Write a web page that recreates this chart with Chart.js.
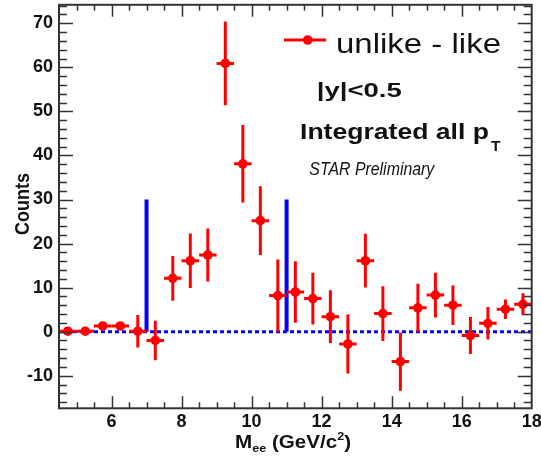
<!DOCTYPE html>
<html>
<head>
<meta charset="utf-8">
<script src="https://cdn.jsdelivr.net/npm/chart.js@4.4.1/dist/chart.umd.min.js"></script>
<style>
html,body{margin:0;padding:0;background:#fff;}
#c{display:block;}
</style>
</head>
<body>
<canvas id="c" width="541" height="461"></canvas>
<script>
// ---- data ----
const massBins = [4.75,5.25,5.75,6.25,6.75,7.25,7.75,8.25,8.75,9.25,9.75,10.25,10.75,11.25,11.75,12.25,12.75,13.25,13.75,14.25,14.75,15.25,15.75,16.25,16.75,17.25,17.75];
const counts   = [0.1,0.1,1.3,1.3,0.1,-2.0,12.1,16.1,17.4,60.9,38.1,25.2,8.2,9.0,7.5,3.4,-2.8,16.1,4.1,-6.8,5.4,8.3,6.0,-0.9,1.9,5.1,6.2];
const countErr = [0.5,0.5,0.8,0.8,3.7,4.5,5.1,6.2,6.0,9.5,8.8,7.8,8.2,7.0,5.9,6.0,6.7,6.1,6.2,6.6,5.5,5.1,4.5,4.2,3.7,2.2,2.5];
const binHalfWidth = 0.25;
const windowLow  = [{x:7,y:0},{x:7,y:30}];
const windowHigh = [{x:11,y:0},{x:11,y:30}];
const zeroLine   = [{x:4.5,y:0},{x:18,y:0}];
const xTickLabels = [6,8,10,12,14,16,18];
const yTickLabels = [-10,0,10,20,30,40,50,60,70];
const xRange = [4.5, 18];
const yRange = [-17.4, 74.2];
const seriesName = 'unlike - like';

const points = massBins.map((m,i)=>({x:m, y:counts[i]}));
const FONT = "'Liberation Sans', Arial, Helvetica, sans-serif";
const NARROW = "'Liberation Sans Narrow', 'Liberation Sans', Arial, sans-serif";

function fitText(ctx, s, x, y, font, targetW, color){
  ctx.save();
  ctx.font = font;
  const w = ctx.measureText(s).width;
  const sx = targetW ? targetW / w : 1;
  ctx.translate(x, y);
  ctx.scale(sx, 1);
  ctx.fillStyle = color || '#111';
  ctx.textAlign = 'left';
  ctx.textBaseline = 'alphabetic';
  ctx.fillText(s, 0, 0);
  ctx.restore();
}

const rootStyle = {
  id: 'rootStyle',
  beforeDatasetDraw(chart, args){
    if (args.index !== 0) return;
    const ctx = chart.ctx, xs = chart.scales.x, ys = chart.scales.y, a = chart.chartArea;
    ctx.save();
    ctx.beginPath(); ctx.rect(a.left, a.top, a.right-a.left, a.bottom-a.top); ctx.clip();
    ctx.strokeStyle = '#ff0000'; ctx.lineWidth = 3; ctx.lineCap = 'butt';
    for (let i=0;i<massBins.length;i++){
      const px = xs.getPixelForValue(massBins[i]);
      const py = ys.getPixelForValue(counts[i]);
      ctx.beginPath();
      ctx.moveTo(px, ys.getPixelForValue(counts[i]+countErr[i]));
      ctx.lineTo(px, ys.getPixelForValue(counts[i]-countErr[i]));
      ctx.moveTo(xs.getPixelForValue(massBins[i]-binHalfWidth), py);
      ctx.lineTo(xs.getPixelForValue(massBins[i]+binHalfWidth), py);
      ctx.stroke();
    }
    ctx.restore();
  },
  afterDraw(chart){
    const ctx = chart.ctx, xs = chart.scales.x, ys = chart.scales.y, a = chart.chartArea;
    ctx.save();
    // ticks inside the frame
    ctx.strokeStyle = '#333'; ctx.lineWidth = 1.5;
    ctx.beginPath();
    for (let v=-16; v<=yRange[1]; v+=2){
      const py = Math.round(ys.getPixelForValue(v))+0.5;
      const L = (v % 10 === 0) ? 14 : 8;
      ctx.moveTo(a.left, py); ctx.lineTo(a.left+L, py);
      ctx.moveTo(a.right, py); ctx.lineTo(a.right-L, py);
    }
    for (let v=5; v<xRange[1]; v+=0.5){
      const px = Math.round(xs.getPixelForValue(v))+0.5;
      const L = (v % 2 === 0) ? 12 : 6;
      ctx.moveTo(px, a.bottom); ctx.lineTo(px, a.bottom-L);
      ctx.moveTo(px, a.top); ctx.lineTo(px, a.top+L);
    }
    ctx.stroke();
    // frame
    ctx.lineWidth = 2; ctx.strokeStyle = '#333';
    ctx.strokeRect(a.left, a.top, a.right-a.left, a.bottom-a.top);

    // legend
    ctx.strokeStyle = '#ff0000'; ctx.lineWidth = 3;
    ctx.beginPath(); ctx.moveTo(284, 40); ctx.lineTo(326, 40); ctx.stroke();
    ctx.fillStyle = '#ff0000';
    ctx.beginPath(); ctx.arc(307.7, 40, 4.8, 0, Math.PI*2); ctx.fill();
    fitText(ctx, seriesName, 336, 53.3, "28px "+FONT, 165);

    // annotations
    fitText(ctx, '|y|<0.5', 316.7, 96.7, "bold 20px "+FONT, 85);
    fitText(ctx, 'Integrated all p', 300, 139, "bold 22px "+FONT, 189);
    fitText(ctx, 'T', 491, 151, "bold 15px "+FONT, 9.5);
    fitText(ctx, 'STAR Preliminary', 309.3, 175, "italic 18px "+NARROW, 125);

    // x title: M_ee (GeV/c^2)
    const parts = [
      {s:'M', f:"bold 18px "+FONT, dy:0},
      {s:'ee', f:"bold 11px "+FONT, dy:4},
      {s:' (GeV/c', f:"bold 18px "+FONT, dy:0},
      {s:'2', f:"bold 11px "+FONT, dy:-8},
      {s:')', f:"bold 18px "+FONT, dy:0}
    ];
    let tot = 0;
    parts.forEach(p=>{ ctx.font=p.f; p.w = ctx.measureText(p.s).width; tot += p.w; });
    const sx = 116 / tot;
    let cx = 293 - 58;
    ctx.fillStyle = '#111'; ctx.textBaseline = 'alphabetic'; ctx.textAlign='left';
    parts.forEach(p=>{
      ctx.save(); ctx.font = p.f; ctx.translate(cx, 448 + p.dy); ctx.scale(sx,1);
      ctx.fillText(p.s, 0, 0); ctx.restore();
      cx += p.w*sx;
    });

    // y title
    ctx.save();
    ctx.translate(29.4, 204);
    ctx.rotate(-Math.PI/2);
    ctx.font = "bold 18px "+FONT;
    const cw = ctx.measureText('Counts').width;
    ctx.scale(62/cw, 1.08);
    ctx.textAlign = 'center'; ctx.textBaseline = 'alphabetic';
    ctx.fillStyle = '#111';
    ctx.fillText('Counts', 0, 0);
    ctx.restore();

    ctx.restore();
  }
};

new Chart(document.getElementById('c'), {
  type: 'scatter',
  data: {
    datasets: [
      {label: seriesName, data: points, backgroundColor:'#ff0000', borderColor:'#ff0000',
       pointRadius: 4.8, pointHoverRadius: 4.8, pointBorderWidth: 0, showLine:false, order:0},
      {label:'window low', data: windowLow, showLine:true, borderColor:'#0000ff', borderWidth:4,
       pointRadius:0, order:1},
      {label:'window high', data: windowHigh, showLine:true, borderColor:'#0000ff', borderWidth:4,
       pointRadius:0, order:1},
      {label:'zero', data: zeroLine, showLine:true, borderColor:'#0000ff', borderWidth:3,
       borderDash:[4,3], pointRadius:0, order:2}
    ]
  },
  options: {
    responsive: false,
    animation: false,
    devicePixelRatio: 1,
    layout: {padding: {top: 4, right: 9.3, left: 0, bottom: 0}},
    plugins: {legend: {display:false}, tooltip: {enabled:false}},
    scales: {
      x: {
        type:'linear', min: xRange[0], max: xRange[1],
        afterBuildTicks: s => { s.ticks = xTickLabels.map(v=>({value:v})); },
        afterFit: s => { s.height = 461 - 408.3; s.paddingLeft = 0; s.paddingRight = 0; },
        grid: {display:false, drawTicks:false},
        border: {display:false},
        ticks: {font:{family:FONT, size:18, weight:'bold'}, color:'#111', padding:3, maxRotation:0, autoSkip:false}
      },
      y: {
        type:'linear', min: yRange[0], max: yRange[1],
        afterBuildTicks: s => { s.ticks = yTickLabels.map(v=>({value:v})); },
        afterFit: s => { s.width = 59; s.paddingTop = 0; s.paddingBottom = 0; },
        grid: {display:false, drawTicks:false},
        border: {display:false},
        ticks: {font:{family:FONT, size:18, weight:'bold'}, color:'#111', padding:6, autoSkip:false}
      }
    }
  },
  plugins: [rootStyle]
});
</script>
</body>
</html>
